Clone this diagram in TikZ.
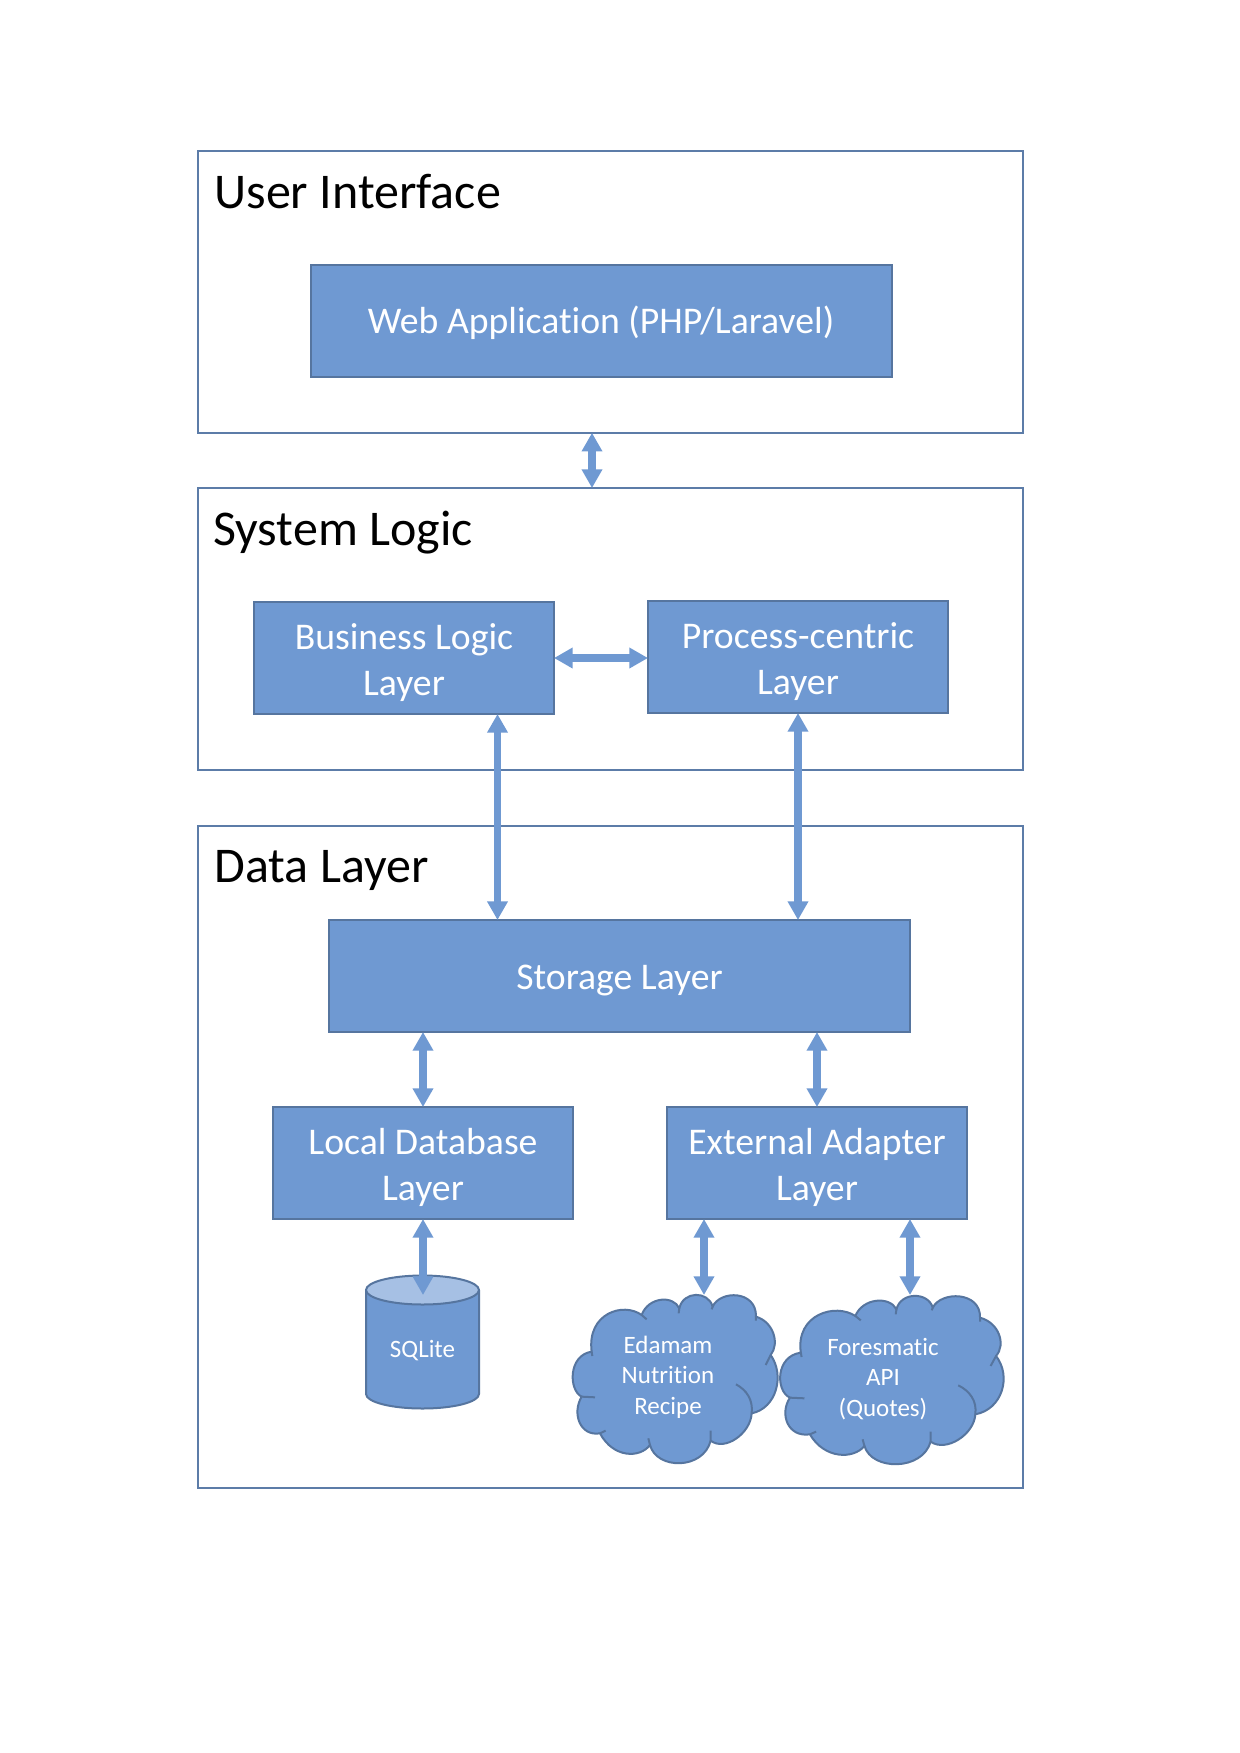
\documentclass[tikz,border=0pt]{standalone}
\usepackage{fontspec}
\setmainfont{Carlito}[Ligatures=NoCommon]
\usetikzlibrary{arrows.meta}
\definecolor{blockfill}{HTML}{6F99D2}
\definecolor{blockline}{HTML}{56759F}
\definecolor{framecol}{HTML}{5C7CA8}
\definecolor{lidfill}{HTML}{A6C0E4}
\newcommand{\cloudoutline}{%
  \path[cloudbody] (155,455)
    .. controls (140,340) and (250,305) .. (305,345)
    .. controls (325,290) and (400,285) .. (418,325)
    .. controls (430,272) and (505,272) .. (518,320)
    .. controls (540,270) and (650,270) .. (648,350)
    .. controls (700,365) and (720,430) .. (692,465)
    .. controls (735,525) and (710,625) .. (635,640)
    .. controls (632,700) and (555,755) .. (512,722)
    .. controls (490,810) and (350,810) .. (330,735)
    .. controls (300,775) and (220,775) .. (180,700)
    .. controls (120,710) and (95,640) .. (125,590)
    .. controls (85,570) and (85,465) .. (155,455) -- cycle;
  \draw[cloudstub] (125,590) -- (165,592) (180,700) -- (197,692)
    (330,735) -- (325,715) (512,722) -- (512,692)
    (692,465) -- (677,495) (648,350) -- (648,362)
    (305,345) -- (320,358) (418,325) -- (416,340)
    (518,320) -- (515,328) (155,455) -- (157,468)
    (635,640) .. controls (640,600) and (620,570) .. (588,553);
}
\tikzset{
  x=0.5pt,y=-0.5pt,
  frame/.style={draw=framecol,line width=1pt,fill=white,minimum width=412.5pt,inner sep=0pt,outer sep=0pt},
  block/.style={draw=blockline,line width=1pt,fill=blockfill,inner sep=0pt,outer sep=0pt,minimum height=56pt},
  blocktext/.style={text=white,align=center,inner sep=0pt,yshift=-2.4pt,font=\fontsize{18.85}{23}\selectfont},
  wideblock/.style={block,minimum width=290.5pt},
  midblock/.style={block,minimum width=150pt},
  heading/.style={anchor=base west,inner sep=0pt,font=\fontsize{25}{30}\selectfont},
  small/.style={text=white,align=center,inner sep=0pt,font=\fontsize{12.5}{15.2}\selectfont},
  both/.style={draw=blockfill,line width=3.7pt,{Triangle[length=9.3pt,width=9.8pt]}-{Triangle[length=9.3pt,width=9.8pt]}},
  cloudbody/.style={draw=blockline,line width=1pt,fill=blockfill,line join=round},
  cloudstub/.style={draw=blockline,line width=1pt},
}
\begin{document}
\begin{tikzpicture}
\useasboundingbox[fill=white] (0,0) rectangle (1240,1753);
% layer frames
\node[frame,minimum height=141pt] (ui) at (610.5,291.8) {};
\node[frame,minimum height=141pt] (sl) at (610.5,629) {};
\node[frame,minimum height=331pt] (dl) at (610.5,1157) {};
\node[heading] (uit) at (214,208) {User Interface};
\node[heading] (slt) at (213,545.5) {System Logic};
\node[heading] (dlt) at (214,882.5) {Data Layer};
% blocks
\node[wideblock] (web) at (601,320.5) {};
\node[midblock] (bl) at (404,658) {};
\node[midblock] (pc) at (798,657) {};
\node[wideblock] (st) at (619.5,976) {};
\node[midblock] (ld) at (423,1163) {};
\node[midblock] (ex) at (817,1163) {};
\node[blocktext,yshift=1.2pt] (webt) at (web) {Web Application (PHP/Laravel)};
\node[blocktext] (blt) at (bl) {Business Logic\\Layer};
\node[blocktext] (pct) at (pc) {Process-centric\\Layer};
\node[blocktext] (stt) at (st) {Storage Layer};
\node[blocktext] (ldt) at (ld) {Local Database\\Layer};
\node[blocktext] (ext) at (ex) {External Adapter\\Layer};
% database
\path[cloudbody] (366,1290) -- (366,1394) arc[start angle=180,end angle=0,x radius=56.5,y radius=14.5] -- (479,1290) -- cycle;
\path[cloudbody,fill=lidfill] (422.5,1290) ellipse[x radius=56.5,y radius=14.5];
\node[small] (db) at (422.5,1351) {SQLite};
% clouds
\begin{scope}[shift={(540,1200)},xscale=0.3333,yscale=0.3333]
\cloudoutline
\end{scope}
\begin{scope}[shift={(744.5,1201)},xscale=0.3635,yscale=0.3333]
\cloudoutline
\end{scope}
\node[small] (ed) at (668,1377) {Edamam\\Nutrition\\Recipe};
\node[small] (fo) at (883,1379) {Foresmatic\\API\\(Quotes)};
% connector columns
\coordinate (c1) at (592,0);
\coordinate (c2) at (497.5,0);
\coordinate (c3) at (798,0);
\coordinate (c4) at (423,0);
\coordinate (c5) at (817,0);
\coordinate (c6) at (704,0);
\coordinate (c7) at (910,0);
\coordinate (dbtop) at (423,1295);
\coordinate (edtop) at (704,1295);
\coordinate (fotop) at (910,1295);
\draw[both] (ui.south -| c1) -- (sl.north -| c1);
\draw[both] (bl.east) -- (pc.west |- bl.east);
\draw[both] (bl.south -| c2) -- (st.north -| c2);
\draw[both] (pc.south -| c3) -- (st.north -| c3);
\draw[both] (st.south -| c4) -- (ld.north -| c4);
\draw[both] (st.south -| c5) -- (ex.north -| c5);
\draw[both] (ld.south -| c4) -- (dbtop);
\draw[both] (ex.south -| c6) -- (edtop);
\draw[both] (ex.south -| c7) -- (fotop);
\end{tikzpicture}
\end{document}
